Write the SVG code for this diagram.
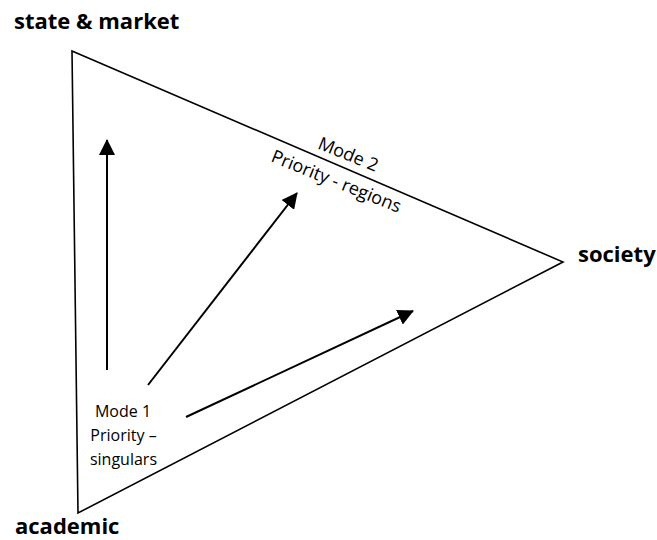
<svg xmlns="http://www.w3.org/2000/svg" width="657" height="540" viewBox="0 0 657 540">
<style>
.lbl{font-family:"Open Sans","Liberation Sans",sans-serif;font-weight:bold;font-size:22px;fill:#000}
.txt{font-family:"Open Sans","Liberation Sans",sans-serif;font-size:16px;fill:#000}
.rt{font-family:"Open Sans","Liberation Sans",sans-serif;font-size:18px;fill:#000}
.edge{fill:none;stroke:#000;stroke-width:1.6;stroke-linejoin:miter}
.arr{stroke:#000;stroke-width:2;fill:none;marker-end:url(#ah)}
</style>
<defs>
<marker id="ah" viewBox="0 0 16 16" refX="15" refY="8" markerWidth="16" markerHeight="16" markerUnits="userSpaceOnUse" orient="auto">
<path d="M0,0 L16,8 L0,16 Z" fill="#000"/>
</marker>
</defs>
<rect width="657" height="540" fill="#fff"/>
<g id="triangle">
<polygon class="edge" points="72,51 563,262 78,513"/>
</g>
<g id="state-market"><text class="lbl" x="14" y="29">state &amp; market</text></g>
<g id="society"><text class="lbl" x="578" y="262">society</text></g>
<g id="academic"><text class="lbl" x="15" y="534">academic</text></g>
<g id="mode1">
<text class="txt" text-anchor="middle" x="123" y="417">Mode 1</text>
<text class="txt" text-anchor="middle" x="123.5" y="441">Priority –</text>
<text class="txt" text-anchor="middle" x="123.5" y="465">singulars</text>
</g>
<g id="mode2">
<text class="rt" text-anchor="middle" transform="translate(346,160) rotate(22)">Mode 2</text>
<text class="rt" text-anchor="middle" transform="translate(334,187) rotate(22)">Priority - regions</text>
</g>
<g id="connectors">
<line class="arr" x1="107" y1="370" x2="107" y2="140"/>
<line class="arr" x1="148" y1="385" x2="297" y2="193"/>
<line class="arr" x1="186" y1="417" x2="413" y2="311"/>
</g>
</svg>
